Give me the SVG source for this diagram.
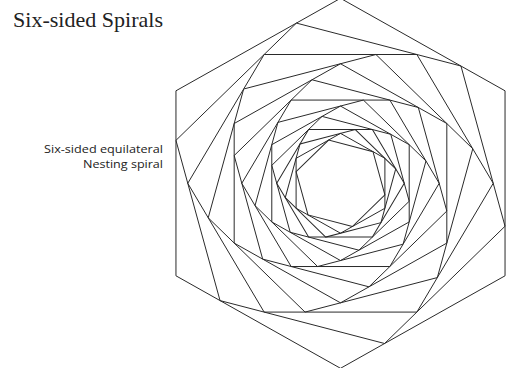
<svg xmlns="http://www.w3.org/2000/svg" xmlns:xlink="http://www.w3.org/1999/xlink" width="507" height="368" viewBox="0 0 507 368">
  <style>
    .hex { fill: none; stroke: #2a2a2a; stroke-width: 1; vector-effect: non-scaling-stroke; stroke-linejoin: miter; }
    .title { font-family: "Liberation Serif", "DejaVu Serif", serif; font-size: 21px; fill: #222; }
    .label { font-family: "Open Sans", "Noto Sans", "Liberation Sans", sans-serif; font-size: 11.5px; fill: #222; text-anchor: end; }
  </style>
  <defs>
    <polygon id="hex" class="hex" points="0,-1 0.866025,-0.5 0.866025,0.5 0,1 -0.866025,0.5 -0.866025,-0.5"/>
  </defs>
  <rect width="507" height="368" fill="#fff"/>
  <text class="title" x="13" y="27" textLength="150" lengthAdjust="spacingAndGlyphs">Six-sided Spirals</text>
  <g id="label">
    <text class="label" x="163" y="153" textLength="119" lengthAdjust="spacingAndGlyphs">Six-sided equilateral</text>
    <text class="label" x="163" y="167.5" textLength="80" lengthAdjust="spacingAndGlyphs">Nesting spiral</text>
  </g>
  <g id="spiral" transform="translate(340.5,183.3) scale(190,185)">
    <use id="hex0" xlink:href="#hex" transform="rotate(0) scale(1)"/>
    <use id="hex1" xlink:href="#hex" transform="rotate(-15) scale(0.89658)"/>
    <use id="hex2" xlink:href="#hex" transform="rotate(-30) scale(0.80386)"/>
    <use id="hex3" xlink:href="#hex" transform="rotate(-45) scale(0.72073)"/>
    <use id="hex4" xlink:href="#hex" transform="rotate(-60) scale(0.64619)"/>
    <use id="hex5" xlink:href="#hex" transform="rotate(-75) scale(0.57936)"/>
    <use id="hex6" xlink:href="#hex" transform="rotate(-90) scale(0.51944)"/>
    <use id="hex7" xlink:href="#hex" transform="rotate(-105) scale(0.46572)"/>
    <use id="hex8" xlink:href="#hex" transform="rotate(-120) scale(0.41755)"/>
    <use id="hex9" xlink:href="#hex" transform="rotate(-135) scale(0.37437)"/>
    <use id="hex10" xlink:href="#hex" transform="rotate(-150) scale(0.33565)"/>
    <use id="hex11" xlink:href="#hex" transform="rotate(-165) scale(0.30094)"/>
    <use id="hex12" xlink:href="#hex" transform="rotate(-180) scale(0.26981)"/>
    <use id="hex13" xlink:href="#hex" transform="rotate(-195) scale(0.24191)"/>
  </g>
</svg>
